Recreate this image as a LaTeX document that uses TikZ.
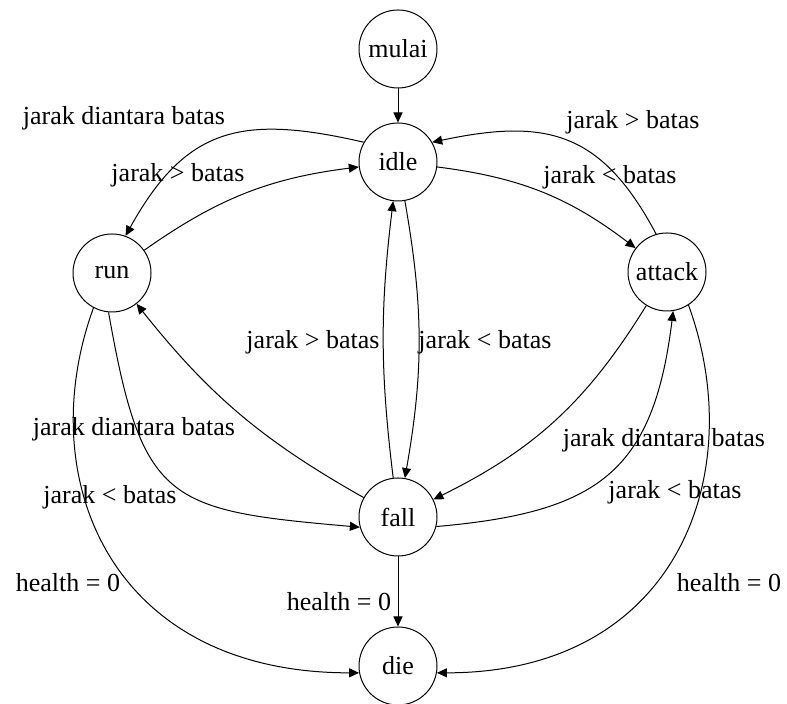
\documentclass[tikz,border=0pt]{standalone}
\usepackage{fontspec}
\setmainfont{Liberation Serif}
\usetikzlibrary{arrows.meta}

\begin{document}
\begin{tikzpicture}[x=0.5pt, y=0.5pt,
    state/.style={circle, draw, line width=0.5pt, minimum size=39pt, inner sep=0pt, font=\rmfamily\fontsize{13}{15}\selectfont},
    lbl/.style={inner sep=0pt, font=\rmfamily\fontsize{13}{15}\selectfont},
    trans/.style={-{Triangle[length=5pt, width=4.5pt]}, line width=0.5pt}]
    \useasboundingbox (0,0) rectangle (787,704);
    % states
    \foreach \nm/\xc/\yc in {mulai/398/655, idle/398/542, run/112/431, attack/667/432, fall/398/187, die/398/38}
      \node[state] (\nm) at (\xc,\yc) {\nm};
    % transitions
    \draw[trans] (mulai) -- (idle);
    \draw[trans] (idle.150) to[out=167, in=61, looseness=1.25] (run.70);
    \draw[trans] (run) to[bend left=14] (idle);
    \draw[trans] (idle) to[bend left=15] (attack);
    \draw[trans] (attack.106) to[out=118, in=12, looseness=1.23] (idle.30);
    \draw[trans] (idle) to[bend left=10] (fall);
    \draw[trans] (fall) to[bend left=7] (idle);
    \draw[trans] (fall) to[bend left=11] (run);
    \draw[trans] (run.265) to[out=-80, in=175, looseness=1.5] (fall.195);
    \draw[trans] (run.242) to[out=-110, in=180, out distance=90pt, in distance=125pt] (die.190);
    \draw[trans] (attack) to[bend left=16] (fall);
    \draw[trans] (fall.-14) to[out=5, in=-97, looseness=1.3] (attack.-81);
    \draw[trans] (attack.-57) to[out=-70, in=0, out distance=90pt, in distance=120pt] (die.-10);
    \draw[trans] (fall) -- (die);
    % labels
    \foreach \xc/\yc/\lab/\nm in {%
      124/586/jarak diantara batas/l1,
      178/529/jarak > batas/l2,
      633/582/jarak > batas/l3,
      610/527/jarak < batas/l4,
      313/362/jarak > batas/l5,
      485/362/jarak < batas/l6,
      134/275/jarak diantara batas/l7,
      110/207/jarak < batas/l8,
      664/264/jarak diantara batas/l9,
      675/212/jarak < batas/l10,
      68/121/health = 0/l11,
      339/102/health = 0/l12,
      729/121/health = 0/l13%
    } {
      \node[lbl] (\nm) at (\xc,\yc) {\lab};
    }
  \end{tikzpicture}
\end{document}
